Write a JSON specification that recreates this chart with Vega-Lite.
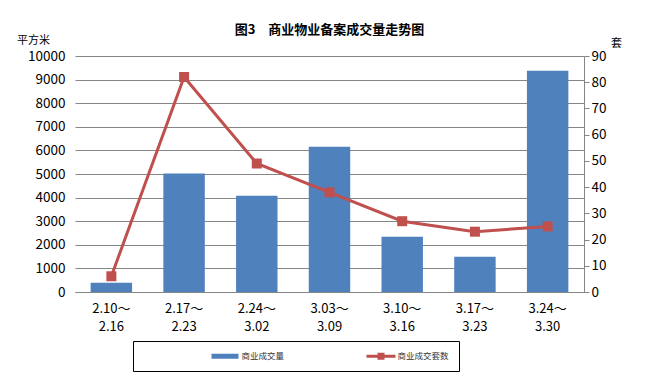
{
  "$schema": "https://vega.github.io/schema/vega-lite/v6.json",
  "width": 509,
  "height": 236,
  "autosize": {"type": "none"},
  "padding": {"left": 75, "top": 56, "right": 67, "bottom": 95},
  "background": "white",
  "title": {"text": "图3　商业物业备案成交量走势图", "anchor": "middle", "frame": "group", "font": "Noto Sans CJK SC", "fontSize": 13, "fontWeight": "bold", "color": "#000000", "offset": -3},
  "config": {
    "view": {"stroke": null},
    "axis": {"labelFont": "Liberation Sans Narrow, Noto Sans CJK SC", "labelFontSize": 13.5, "labelColor": "#000000", "titleFont": "Noto Sans CJK SC", "titleFontSize": 11, "titleFontWeight": "normal", "titleColor": "#000000", "domainColor": "#868686", "tickColor": "#868686", "gridColor": "#868686", "gridOpacity": 1}
  },
  "data": {"values": [
    {"period": "2.10～2.16", "area": 390, "units": 6},
    {"period": "2.17～2.23", "area": 5020, "units": 82},
    {"period": "2.24～3.02", "area": 4080, "units": 49},
    {"period": "3.03～3.09", "area": 6150, "units": 38},
    {"period": "3.10～3.16", "area": 2340, "units": 27},
    {"period": "3.17～3.23", "area": 1490, "units": 23},
    {"period": "3.24～3.30", "area": 9370, "units": 25}
  ]},
  "encoding": {
    "x": {"field": "period", "type": "nominal", "sort": null,
      "scale": {"paddingInner": 0.43, "paddingOuter": 0.215},
      "axis": {"title": null, "labelAngle": 0, "ticks": false, "labelPadding": 10, "labelBaseline": "top", "labelLineHeight": 18, "labelFontSize": 13,
        "labelExpr": "[split(datum.label,'～')[0] + '～', split(datum.label,'～')[1]]"}}
  },
  "layer": [
    {
      "mark": {"type": "bar"},
      "encoding": {
        "y": {"field": "area", "type": "quantitative", "scale": {"domain": [0, 10000], "nice": false},
          "axis": {"title": "平方米", "titleAngle": 0, "titleX": -42, "titleY": -16, "titleAlign": "center", "titleBaseline": "middle",
            "values": [0,1000,2000,3000,4000,5000,6000,7000,8000,9000,10000], "format": "d", "domain": false, "ticks": false, "labelPadding": 10, "grid": true}},
        "color": {"datum": "商业成交量", "type": "nominal",
          "scale": {"domain": ["商业成交量", "商业成交套数"], "range": ["#4F81BD", "#C0504D"]},
          "legend": {"title": " ", "titleOrient": "left", "titlePadding": 77, "orient": "none", "legendX": 58, "legendY": 285, "direction": "horizontal",
            "strokeColor": "#000000", "padding": 10, "columnPadding": 81, "labelOffset": 11.5, "symbolSize": 100,
            "labelFont": "Noto Sans CJK SC", "labelFontSize": 8.5, "labelColor": "#333333",
            "encode": {
              "legend": {"update": {"width": {"value": 396}, "height": {"value": 32}}},
              "symbols": {"update": {
              "shape": {"signal": "datum.label === '商业成交量' ? 'M-2.7,-0.5H2.7V0.5H-2.7Z' : 'M-2.9,-0.3H-0.7V-0.7H0.7V-0.3H2.9V0.3H0.7V0.7H-0.7V0.3H-2.9Z'"},
              "fill": {"signal": "datum.label === '商业成交量' ? '#4F81BD' : '#C0504D'"},
              "stroke": {"value": "transparent"},
              "strokeWidth": {"value": 0},
              "opacity": {"value": 1},
              "fillOpacity": {"value": 1}
            }}}}}
      }
    },
    {
      "mark": {"type": "line", "strokeWidth": 3, "point": {"shape": "square", "size": 100, "filled": true, "opacity": 1}},
      "encoding": {
        "y": {"field": "units", "type": "quantitative", "scale": {"domain": [0, 90], "nice": false},
          "axis": {"orient": "right", "title": "套", "titleAngle": 0, "titleX": 32, "titleY": -13, "titleAlign": "center", "titleBaseline": "middle",
            "values": [0,10,20,30,40,50,60,70,80,90], "grid": false, "tickSize": 5, "labelPadding": 2}},
        "color": {"datum": "商业成交套数", "type": "nominal"}
      }
    }
  ],
  "resolve": {"scale": {"y": "independent"}}
}
